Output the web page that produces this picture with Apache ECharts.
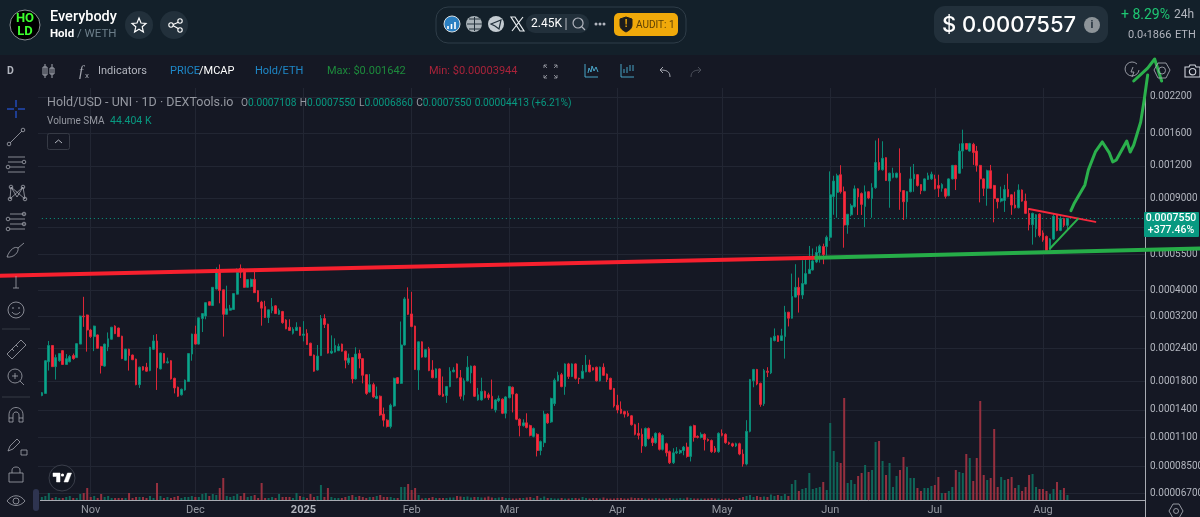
<!DOCTYPE html>
<html>
<head>
<meta charset="utf-8">
<title>Hold/USD</title>
<script src="https://cdn.jsdelivr.net/npm/echarts@6/dist/echarts.min.js"></script>
<style>
html,body{margin:0;padding:0;background:#151824;}
#main{width:1200px;height:517px;}
</style>
</head>
<body>
<div id="main"></div>
<script>
// prices are in millionths of a dollar, volumes in thousands
var opens = [159,162,214,247,205,216,236,209,214,226,222,250,320,323,283,267,271,244,206,244,
261,293,288,268,217,239,227,219,175,205,204,198,239,257,201,230,212,216,185,171,
160,167,180,229,273,250,313,320,363,351,406,471,403,325,337,339,388,487,474,412,
415,442,400,362,348,316,336,350,325,333,309,290,275,282,290,270,275,252,227,199,
226,313,298,231,233,236,250,235,212,222,184,230,220,191,164,175,155,158,135,128,
121,145,186,177,248,372,326,293,199,255,223,240,199,186,201,161,159,172,196,210,
186,160,181,194,206,153,153,165,160,158,140,152,154,136,156,171,161,129,122,125,
122,111,113,98,105,135,126,148,181,191,172,210,188,210,185,185,196,208,203,204,
181,204,192,185,169,146,141,138,136,133,123,114,113,102,119,109,105,114,99,104,
97,88,96,96,98,101,93,122,111,110,113,108,107,100,97,114,113,105,104,102,
104,95,87,116,181,200,177,148,197,194,258,269,258,267,331,314,378,412,385,424,
465,480,515,558,590,590,640,915,950,1110,956,713,780,838,980,940,840,955,900,990,
1236,1160,1290,1050,1085,1085,1125,965,875,956,1070,1110,1018,965,1065,1070,1070,1010,985,980,
923,1070,1205,1125,1367,1460,1367,1450,1367,1205,1070,985,1150,1010,900,880,885,975,930,850,
830,970,880,790,715,690,785,665,645,575,630,780,680,755,711];
var closes = [163,216,247,205,222,230,209,220,224,220,251,320,318,283,267,293,241,207,250,262,
290,274,267,220,239,226,218,175,204,199,197,243,257,203,231,212,214,184,170,158,
168,182,230,273,250,315,327,360,352,412,474,401,325,341,343,390,471,471,412,441,
442,393,363,343,316,338,348,327,336,302,286,282,285,290,270,273,249,226,197,225,
313,297,231,235,247,245,235,217,221,184,229,220,190,162,175,157,158,134,128,121,
146,185,177,248,372,325,292,200,255,223,238,198,186,201,160,158,172,197,199,186,
158,181,204,206,158,160,165,156,156,142,153,155,136,157,172,161,129,122,125,120,
112,119,98,106,135,125,155,182,190,172,210,188,210,185,184,197,208,196,199,181,
204,190,183,168,145,140,136,135,133,123,113,112,102,119,109,105,114,99,112,96,
88,96,97,98,101,93,121,110,110,113,108,107,97,97,114,112,105,104,102,104,
95,87,116,183,200,176,147,198,195,264,268,256,269,331,314,380,412,385,426,465,
483,520,560,592,550,640,930,1050,1100,955,713,784,845,980,913,855,955,905,990,1236,
1160,1282,1055,1125,1125,1125,956,875,956,1070,1115,1010,965,1070,1100,1115,980,985,1018,918,
1070,1205,1070,1367,1460,1390,1460,1350,1205,1070,985,1150,985,900,875,900,975,915,850,830,
970,880,790,715,790,780,650,625,570,630,770,680,755,711,755];
var highs = [164,217,257,247,228,231,237,229,227,230,252,321,379,324,286,294,272,245,251,277,
291,295,289,269,240,240,228,220,205,206,212,244,271,273,232,231,222,217,186,172,
169,183,231,274,294,316,328,361,364,413,491,504,404,418,353,391,487,504,487,442,
445,485,402,366,366,339,375,352,342,335,311,311,290,303,291,306,285,253,228,248,
323,325,299,270,263,251,251,236,230,223,243,238,221,192,192,178,172,159,143,129,
148,186,187,305,378,412,396,294,256,256,239,244,217,202,202,188,173,204,204,211,
199,185,225,207,207,170,186,166,163,183,154,159,155,158,173,172,162,130,129,136,
123,120,114,107,139,136,156,185,196,194,211,212,211,211,186,208,227,218,204,205,
205,211,193,186,170,160,151,139,139,134,124,125,119,120,120,111,115,115,113,105,
98,100,101,99,102,105,122,123,112,115,114,109,108,102,115,118,114,106,105,105,
105,99,128,184,201,201,178,201,204,265,287,270,286,350,332,465,505,449,523,527,
593,580,590,600,605,650,1143,1100,1120,1207,1000,785,860,1010,985,950,1010,960,1030,1500,
1530,1490,1295,1130,1180,1130,1400,970,960,1190,1220,1115,1020,1075,1130,1140,1110,1110,1030,985,
1075,1210,1210,1460,1650,1465,1470,1470,1430,1210,1075,1160,1210,1015,905,1000,1015,1120,935,956,
1020,975,940,825,795,785,790,680,650,635,785,785,770,760,755];
var lows = [158,162,198,205,183,214,208,208,213,218,222,250,291,234,264,235,240,193,205,235,
260,273,266,219,216,198,217,174,170,198,196,197,238,167,200,211,211,183,162,157,
159,166,179,216,249,249,278,311,351,350,405,358,267,324,336,338,387,447,411,411,
412,392,362,294,315,301,328,326,323,299,285,281,272,281,269,256,248,225,196,198,
225,288,230,229,232,235,234,202,208,177,183,202,177,160,163,156,154,133,121,120,
119,144,176,176,247,323,290,199,167,222,222,197,185,185,159,157,149,171,195,185,
154,152,180,177,157,152,152,155,153,141,137,150,135,130,155,137,128,111,121,119,
111,110,93,94,101,124,125,145,180,171,160,184,187,183,176,184,195,195,198,180,
180,189,179,167,143,136,135,131,132,122,112,108,96,101,108,102,104,98,98,93,
87,87,95,95,94,92,89,106,109,109,98,106,96,96,96,111,104,103,101,101,
94,85,86,115,171,174,144,145,187,192,256,255,257,220,292,313,377,330,372,423,
464,478,510,512,505,545,620,780,760,940,584,660,770,830,779,779,700,895,760,980,
1150,1150,1050,830,1075,1075,815,745,760,950,955,1000,935,960,1060,1060,975,912,956,900,
918,1065,970,1120,1170,1385,1360,1210,1140,870,920,845,980,730,825,870,800,910,780,825,
825,875,785,680,600,640,640,615,565,570,625,675,675,700,686];
var volumes = [12,16,28,8,12,8,8,12,16,8,8,24,28,48,12,16,8,24,12,16,
8,8,8,8,8,28,8,12,12,12,8,16,8,68,16,8,12,8,12,16,
8,12,12,16,12,12,24,28,16,24,20,48,88,16,12,16,24,16,28,12,
16,20,8,68,8,8,12,8,24,12,12,12,8,28,16,12,8,24,12,16,
60,12,48,12,8,8,8,12,16,20,12,16,12,8,12,12,16,20,12,12,
12,8,8,52,52,64,40,48,20,6,8,8,12,8,8,8,8,10,10,16,
14,12,14,10,12,12,10,10,14,10,8,10,12,8,8,6,6,8,8,10,
12,8,16,8,14,8,8,6,6,8,6,6,8,8,6,12,8,6,8,8,
6,10,6,6,6,8,8,6,6,10,8,8,8,6,6,6,8,6,6,6,
8,6,6,8,6,10,8,6,6,6,6,6,8,6,6,4,6,6,4,4,
8,12,16,20,12,16,12,14,12,22,16,20,16,24,16,64,80,36,44,48,
108,44,48,52,72,40,308,196,152,148,408,68,80,64,96,108,140,112,120,232,
236,156,100,148,52,96,120,172,132,88,88,48,36,48,48,56,60,92,28,28,
36,52,120,112,108,184,168,76,168,396,100,80,88,284,52,92,80,84,92,48,
60,36,52,100,104,52,44,44,36,24,44,72,40,48,20];

var gridTicks = [67,85,110,140,180,240,320,400,550,700,900,1200,1600,2200];
var priceTicks = [67,85,110,140,180,240,320,400,550,900,1200,1600,2200];
var priceLabels = ['0.00006700','0.00008500','0.0001100','0.0001400','0.0001800','0.0002400','0.0003200','0.0004000','0.0005500','0.0009000','0.001200','0.001600','0.002200'];
var monthLabels = {'2024-11-01':'Nov','2024-12-01':'Dec','2025-01-01':'2025','2025-02-01':'Feb','2025-03-01':'Mar','2025-04-01':'Apr','2025-05-01':'May','2025-06-01':'Jun','2025-07-01':'Jul','2025-08-01':'Aug'};

var lastPrice = [755, 755];
var lastPriceDays = [12, 329];
// hand drawn lines, [day index, price]
var redLine = [[0,456],[234,534]];
var greenLine = [[234,534],[344,580]];
var redWedge = [[295,821],[314,733]];
var greenWedge = [[301,580],[309,753]];
var projection = [[307,809],[308,866],[309,913],[311,1015],[312,1158],[314,1356],[316,1481],[318,1345],[319,1242],[320,1264],[323,1494],[324,1356],[325,1442],[327,1766],[328,2143],[329,2670]];
var arrowHead = [[325,2532],[329,2838],[331,3073],[333,2532]];

var dates = [];
var start = Date.UTC(2024,9,6);
for (var i = 0; i < 345; i++) {
    dates.push(new Date(start + i*86400000).toISOString().slice(0,10));
}
// first candle is Oct 18, twelve empty days before it
var pad = 12;
var candles = [], volumeBars = [];
for (var i = 0; i < pad; i++) {
    candles.push('-');
    volumeBars.push('-');
}
for (var i = 0; i < closes.length; i++) {
    candles.push([opens[i], closes[i], lows[i], highs[i]]);
    volumeBars.push({value: volumes[i], itemStyle: {color: closes[i] >= opens[i] ? '#0f6659' : '#96303f'}});
}

function isMonth(idx, name) {
    return monthLabels[dates[idx]] !== undefined;
}

var GRAY = '#b2b5be';
var TOOL = '#a3a6af';
var g = [];
var iconCount = 0;
function txt(x, y, s, size, color, extra) {
    var st = {x: 0, y: 0, text: s, fontSize: size, fill: color, fontFamily: 'Roboto', verticalAlign: 'middle'};
    for (var k in (extra || {})) st[k] = extra[k];
    g.push({type: 'text', x: x, y: y, z: 20, silent: true, style: st});
}
function box(x, y, w, h, r, fill, stroke, z) {
    g.push({type: 'rect', z: z || 20, silent: true, shape: {x: x, y: y, width: w, height: h, r: r}, style: {fill: fill || 'none', stroke: stroke || 'none', lineWidth: 1}});
}
function dot(x, y, r, fill, stroke, w) {
    g.push({type: 'circle', z: 20, silent: true, shape: {cx: x, cy: y, r: r}, style: {fill: fill || 'none', stroke: stroke || 'none', lineWidth: w || 1}});
}
// graphic has no plain path type, so each icon is registered as its own shape
function icon(x, y, d, color, w, fill) {
    var name = 'toolIcon' + (iconCount++);
    echarts.graphic.registerShape(name, echarts.graphic.extendPath(d, {}));
    g.push({type: name, x: x, y: y, z: 20, silent: true, shape: {}, style: {fill: fill || 'none', stroke: color || GRAY, lineWidth: w || 1}});
}

// side panels, above the grid lines and below the candles
box(0, 0, 38, 517, 0, '#151824', null, 1);
box(1146, 82, 54, 435, 0, '#151824', null, 1);
box(0, 0, 1200, 55, 0, '#13202a', null, 1);
box(38, 56, 1108, 31, 0, '#151824', null, 1);

g.push({type: 'line', z: 3, silent: true, shape: {x1: 40, y1: 500.5, x2: 1145, y2: 500.5}, style: {stroke: '#a8abb3', lineWidth: 1}});
g.push({type: 'line', z: 3, silent: true, shape: {x1: 1145.5, y1: 88, x2: 1145.5, y2: 517}, style: {stroke: '#a8abb3', lineWidth: 1}});

// header
dot(25, 25, 15, '#000', '#8a8f94');
txt(25, 18.5, 'HO', 13, '#3cff2e', {fontWeight: 'bold', align: 'center'});
txt(25, 31.5, 'LD', 13, '#3cff2e', {fontWeight: 'bold', align: 'center'});
txt(50, 17, 'Everybody', 14.5, '#fff', {fontWeight: 500});
txt(50, 34, 'Hold', 11.5, '#fff', {fontWeight: 'bold'});
txt(77, 34, '/ WETH', 11.5, '#6d7f8b');
dot(139, 25, 14, '#22303b');
icon(132, 18, 'M7 0 L9 5 L14 5.4 L10.2 8.8 L11.4 14 L7 11.2 L2.6 14 L3.8 8.8 L0 5.4 L5 5 Z', '#fff', 1.2);
dot(174, 25, 14, '#22303b');
icon(169, 19, 'M10 3 L3 6 M3 6 L10 10', '#fff', 1.1);
dot(180, 21, 2.2, '#22303b', '#fff', 1.1);
dot(171, 25, 2.2, '#22303b', '#fff', 1.1);
dot(180, 30, 2.2, '#22303b', '#fff', 1.1);
box(436, 7, 250, 36, 12, null, '#2f3d48');
dot(452, 24, 8, '#2a7fc1', '#d8dde0');
icon(447, 22, 'M1 7 V4 M4.5 7 V2 M8 7 V0', '#fff', 1.6);
dot(474, 24, 8, '#a9b2b8');
icon(467, 24, 'M0 0 H15 M7.5 -7 V7 M2 -5 H13 M2 5 H13', '#22303b', 1);
dot(496, 24, 8, '#c4ccd2');
icon(491, 20, 'M0 4 L10 0 L8 9 L4 6 Z', '#22303b', 1.2);
icon(511, 17, 'M0 0 L4 0 L13 14 L9 14 Z M12 0 L1 14', '#e8ecef', 1.2);
box(526, 14, 63, 19, 9, '#22303b');
txt(531, 24, '2.45K', 12, '#fff');
icon(566, 18, 'M0 0 V12', GRAY, 1);
icon(573, 18, 'M9 9 L12 12 M5 0 a5 5 0 1 0 0.1 0', GRAY, 1.2);
dot(596, 24, 1.5, GRAY);
dot(600, 24, 1.5, GRAY);
dot(604, 24, 1.5, GRAY);
box(614, 13, 64, 23, 5, '#f0a90a');
icon(620, 17, 'M6 0 L12 2 V8 C12 12 8 14 6 15 C4 14 0 12 0 8 V2 Z', '#1c1c1c', 1, '#1c1c1c');
txt(626, 24, '!', 10, '#f0a90a', {fontWeight: 'bold', align: 'center'});
txt(636, 25, 'AUDIT: 1', 10, '#5b3f05');
box(934, 6, 174, 37, 11, '#22303b');
txt(942, 25, '$ 0.0007557', 22, '#fff', {fontWeight: 500, fontFamily: 'Inter'});
dot(1092, 25, 8, '#8d9499');
txt(1092, 25, 'i', 11, '#22303b', {fontWeight: 'bold', align: 'center'});
txt(1121, 15, '+ 8.29%', 14, '#1ec773');
txt(1174, 15, '24h', 12, GRAY);
g.push({type: 'text', x: 1128, y: 35, z: 20, silent: true, style: {text: '{a|0.0}{b|4}{a|1866}', verticalAlign: 'middle', rich: {a: {fontSize: 11, fill: GRAY, fontFamily: 'Roboto'}, b: {fontSize: 6, fill: GRAY, fontFamily: 'Roboto'}}}});
txt(1175, 35, 'ETH', 11, GRAY);

// toolbar
txt(7, 71, 'D', 10.5, GRAY, {fontWeight: 'bold'});
icon(42, 64, 'M3 0 V14 M1 3 H5 V11 H1 Z M10 0 V14 M8 4 H12 V10 H8 Z', TOOL, 1);
txt(79, 72, 'f', 15, TOOL, {fontFamily: 'Liberation Serif', fontStyle: 'italic'});
txt(85, 76, 'x', 8, TOOL);
txt(98, 71, 'Indicators', 11, GRAY);
txt(170, 71, 'PRICE', 11, '#1e88c8');
txt(199, 71, '/MCAP', 11, '#fff');
txt(255, 71, 'Hold/ETH', 11, '#1e88c8');
txt(327, 71, 'Max: $0.001642', 11, '#1d8a3c');
txt(429, 71, 'Min: $0.00003944', 11, '#a8233a');
icon(544, 65, 'M0 3 V0 H3 M0 0 L3 3 M10 0 H13 V3 M13 0 L10 3 M13 10 V13 H10 M13 13 L10 10 M3 13 H0 V10 M0 13 L3 10', TOOL, 0.8);
icon(585, 64, 'M0 0 V13 H13 M3 9 L4 4 L6 8 L7 2 L9 7 L11 3 L13 8', '#4fb3d9', 0.9);
icon(621, 64, 'M0 0 V13 H13 M3 9 V5 M6 9 V3 M9 7 V1 M12 7 V1', '#4fb3d9', 0.9);
icon(659, 66, 'M11 11 C11 5 7 4 1 4 M4 1 L1 4 L4 7', TOOL, 1);
icon(690, 66, 'M1 11 C1 5 5 4 11 4 M8 1 L11 4 L8 7', '#4a4e59', 1);
icon(1125, 63, 'M12 1 a7 7 0 1 0 2 6 M8 4 L6 9 H9 L7 14', TOOL, 0.9);
icon(1154, 63, 'M4 0 H12 L16 7 L12 15 H4 L0 7 Z M8 4 a3.5 3.5 0 1 0 0.1 0', TOOL, 0.9);
icon(1185, 65, 'M0 2 H4 L5 0 H10 L11 2 H15 V12 H0 Z M7.5 3.5 a3.2 3.2 0 1 0 0.1 0', '#d1d4dc', 1.1);

// legend
txt(47, 103, 'Hold/USD - UNI · 1D · DEXTools.io', 12.5, '#9598a1');
g.push({type: 'text', x: 241, y: 103, z: 20, silent: true, style: {
    text: '{g|O}{t|0.0007108} {g|H}{t|0.0007550} {g|L}{t|0.0006860} {g|C}{t|0.0007550} {t|0.00004413 (+6.21%)}',
    verticalAlign: 'middle',
    rich: {g: {fontSize: 10.2, fill: '#9598a1', fontFamily: 'Roboto'}, t: {fontSize: 10.2, fill: '#089981', fontFamily: 'Roboto'}}
}});
txt(47, 121, 'Volume SMA', 10, '#9598a1');
txt(110, 121, '44.404 K', 10.5, '#089981');
box(47.5, 133.5, 22, 16, 2, null, '#363a45');
icon(55, 139, 'M0 4 L3.5 1 L7 4', GRAY, 1);

// left tools
icon(7, 100, 'M9 0 V7 M9 11 V18 M0 9 H7 M11 9 H18', '#2962ff', 1);
icon(8, 129, 'M2 14 L14 2', TOOL, 0.8);
dot(23, 130, 1.8, null, TOOL, 0.8);
dot(9, 144, 1.8, null, TOOL, 0.8);
icon(7, 157, 'M1 0 H18 M1 5 H15 M3 10 H18 M1 15 H18', TOOL, 0.8);
dot(24, 162, 1.8, null, TOOL, 0.8);
dot(8, 167, 1.8, null, TOOL, 0.8);
icon(8, 185, 'M3 2 L9 12 L15 2 M3 2 L2 14 M15 2 L17 14 M2 14 L15 2 M17 14 L3 2', TOOL, 0.8);
dot(11, 187, 1.8, null, TOOL, 0.8);
dot(23, 187, 1.8, null, TOOL, 0.8);
dot(10, 199, 1.8, null, TOOL, 0.8);
dot(25, 199, 1.8, null, TOOL, 0.8);
icon(7, 214, 'M3 0 H18 M3 5 H18 M3 10 H18 M3 15 H18', TOOL, 0.8);
dot(8, 219, 1.8, null, TOOL, 0.8);
dot(8, 229, 1.8, null, TOOL, 0.8);
dot(24, 214, 1.8, null, TOOL, 0.8);
dot(24, 224, 1.8, null, TOOL, 0.8);
icon(7, 243, 'M0 14 C3 6 8 3 11 5 C12 9 7 15 0 14 M11 5 L17 0', TOOL, 0.8);
icon(16, 276, 'M0 0 V12 M-3 12 H3', TOOL, 0.8);
dot(16, 310, 8, null, TOOL, 0.8);
icon(12, 312, 'M0 0 C2 3 6 3 8 0', TOOL, 0.8);
dot(13, 308, 0.8, TOOL);
dot(19, 308, 0.8, TOOL);
g.push({type: 'line', z: 20, silent: true, shape: {x1: 2, y1: 329, x2: 30, y2: 329}, style: {stroke: '#363a45'}});
icon(7, 340, 'M0 14 L14 0 L19 5 L5 19 Z M5 9 L7 11 M9 5 L11 7', TOOL, 0.8);
dot(15, 376, 7, null, TOOL, 0.8);
icon(15, 373, 'M0 0 V6 M-3 3 H3 M5 8 L9 12', TOOL, 0.8);
g.push({type: 'line', z: 20, silent: true, shape: {x1: 2, y1: 397, x2: 30, y2: 397}, style: {stroke: '#363a45'}});
icon(9, 407, 'M0 8 C0 -2 14 -2 14 8 V15 H10 V8 C10 4 4 4 4 8 V15 H0 Z M0 11 H4 M10 11 H14', TOOL, 0.8);
icon(8, 438, 'M0 13 L2 8 L9 1 L12 4 L5 11 Z M13 12 H19 V17 H13 Z', TOOL, 0.8);
icon(9, 467, 'M0 6 H14 V15 H0 Z M3 6 V3 C3 -1 11 -1 11 3 V6', TOOL, 0.8);
icon(7, 495, 'M0 6 C5 -1 13 -1 18 6 C13 12 5 12 0 6', TOOL, 0.8);
dot(16, 501, 3, null, TOOL, 0.8);

// logo, scroller, settings
dot(62, 478, 13, '#131722', '#3a3e4a');
icon(53, 473, 'M0 0 H7 V9 H3.5 V3.5 H0 Z M11 9 L14.5 0 H18.5 L15 9 Z', '#fff', 0.5, '#fff');
dot(62.5, 475, 1.6, '#fff');
box(33, 489, 6, 22, 3, '#2e3450', null, 21);
icon(1169, 504, 'M4 0 H10 L14 7 L10 14 H4 L0 7 Z M7 4.5 a2.5 2.5 0 1 0 0.1 0', TOOL, 0.9);

// last price tag
box(1144, 212, 55, 25, 1, '#089981', null, 22);
txt(1171, 218.5, '0.0007550', 10.5, '#fff', {align: 'center', fontWeight: 500});
txt(1171, 230, '+377.46%', 10.5, '#fff', {align: 'center', fontWeight: 500});
g[g.length-1].z = 23;
g[g.length-2].z = 23;

var myChart = echarts.init(document.getElementById('main'));
var thick = function (name, data, color, w) {
    return {
        name: name, type: 'line', data: data, xAxisIndex: 0, yAxisIndex: 0,
        symbol: 'none', clip: false, z: 10, silent: true, animation: false,
        lineStyle: {color: color, width: w, cap: 'round', join: 'round'}
    };
};
option = {
    backgroundColor: '#151824',
    animation: false,
    grid: {left: 0, right: 0, top: 88, bottom: 17, outerBoundsMode: 'none'},
    xAxis: {
        type: 'category',
        data: dates,
        boundaryGap: false,
        axisLine: {show: false},
        axisTick: {show: false},
        axisLabel: {
            interval: isMonth,
            margin: 5,
            hideOverlap: false,
            color: '#9598a1',
            fontSize: 11,
            fontFamily: 'Roboto',
            formatter: function (v) {
                var s = monthLabels[v] || '';
                return s === '2025' ? '{y|2025}' : s;
            },
            rich: {y: {fontSize: 11, fontWeight: 'bold', color: '#b2b5be', fontFamily: 'Roboto'}}
        },
        splitLine: {show: true, interval: isMonth, lineStyle: {color: '#222633', width: 1}}
    },
    yAxis: [
        {
            type: 'log', min: 63.4, max: 2381, position: 'right', z: 0,
            axisLine: {show: false},
            axisTick: {show: false, customValues: gridTicks},
            axisLabel: {show: false, customValues: gridTicks},
            splitLine: {show: true, lineStyle: {color: '#222633', width: 1}}
        },
        {
            type: 'log', min: 63.4, max: 2381, position: 'right', z: 5,
            axisLine: {show: false},
            axisTick: {show: false, customValues: priceTicks},
            splitLine: {show: false},
            axisLabel: {
                inside: true, margin: 50, align: 'left', color: GRAY, fontSize: 10, fontFamily: 'Roboto',
                customValues: priceTicks,
                showMinLabel: true, showMaxLabel: true,
                formatter: function (v) {
                    var best = 0;
                    for (var i = 0; i < priceTicks.length; i++) {
                        if (Math.abs(priceTicks[i] - v) < Math.abs(priceTicks[best] - v)) best = i;
                    }
                    return priceLabels[best];
                }
            }
        },
        {type: 'value', min: 0, max: 1648, show: false, splitLine: {show: false}}
    ],
    series: [
        {
            name: 'Volume', type: 'bar', data: volumeBars, yAxisIndex: 2,
            barWidth: 2, z: 2, silent: true
        },
        {
            name: 'Hold/USD', type: 'candlestick', data: candles, yAxisIndex: 0,
            barWidth: 2.2, z: 3, silent: true,
            itemStyle: {color: '#0aa58c', color0: '#fa2a3e', borderColor: '#0a8a76', borderColor0: '#dc2637', borderWidth: 1}
        },
        {
            name: 'Last', type: 'line', data: [[lastPriceDays[0], lastPrice[0]], [lastPriceDays[1], lastPrice[1]]],
            yAxisIndex: 0, symbol: 'none', z: 4, silent: true,
            lineStyle: {color: '#089981', width: 1, type: [1, 3]}
        },
        thick('Resistance', redLine, '#f7202e', 4),
        thick('Support', greenLine, '#26ad48', 4),
        thick('Wedge top', redWedge, '#f7283c', 2),
        thick('Wedge bottom', greenWedge, '#2bb14c', 2),
        thick('Projection', projection, '#2bb14c', 3),
        thick('Arrow', arrowHead, '#2bb14c', 3)
    ],
    graphic: g
};
myChart.setOption(option);
</script>
</body>
</html>
